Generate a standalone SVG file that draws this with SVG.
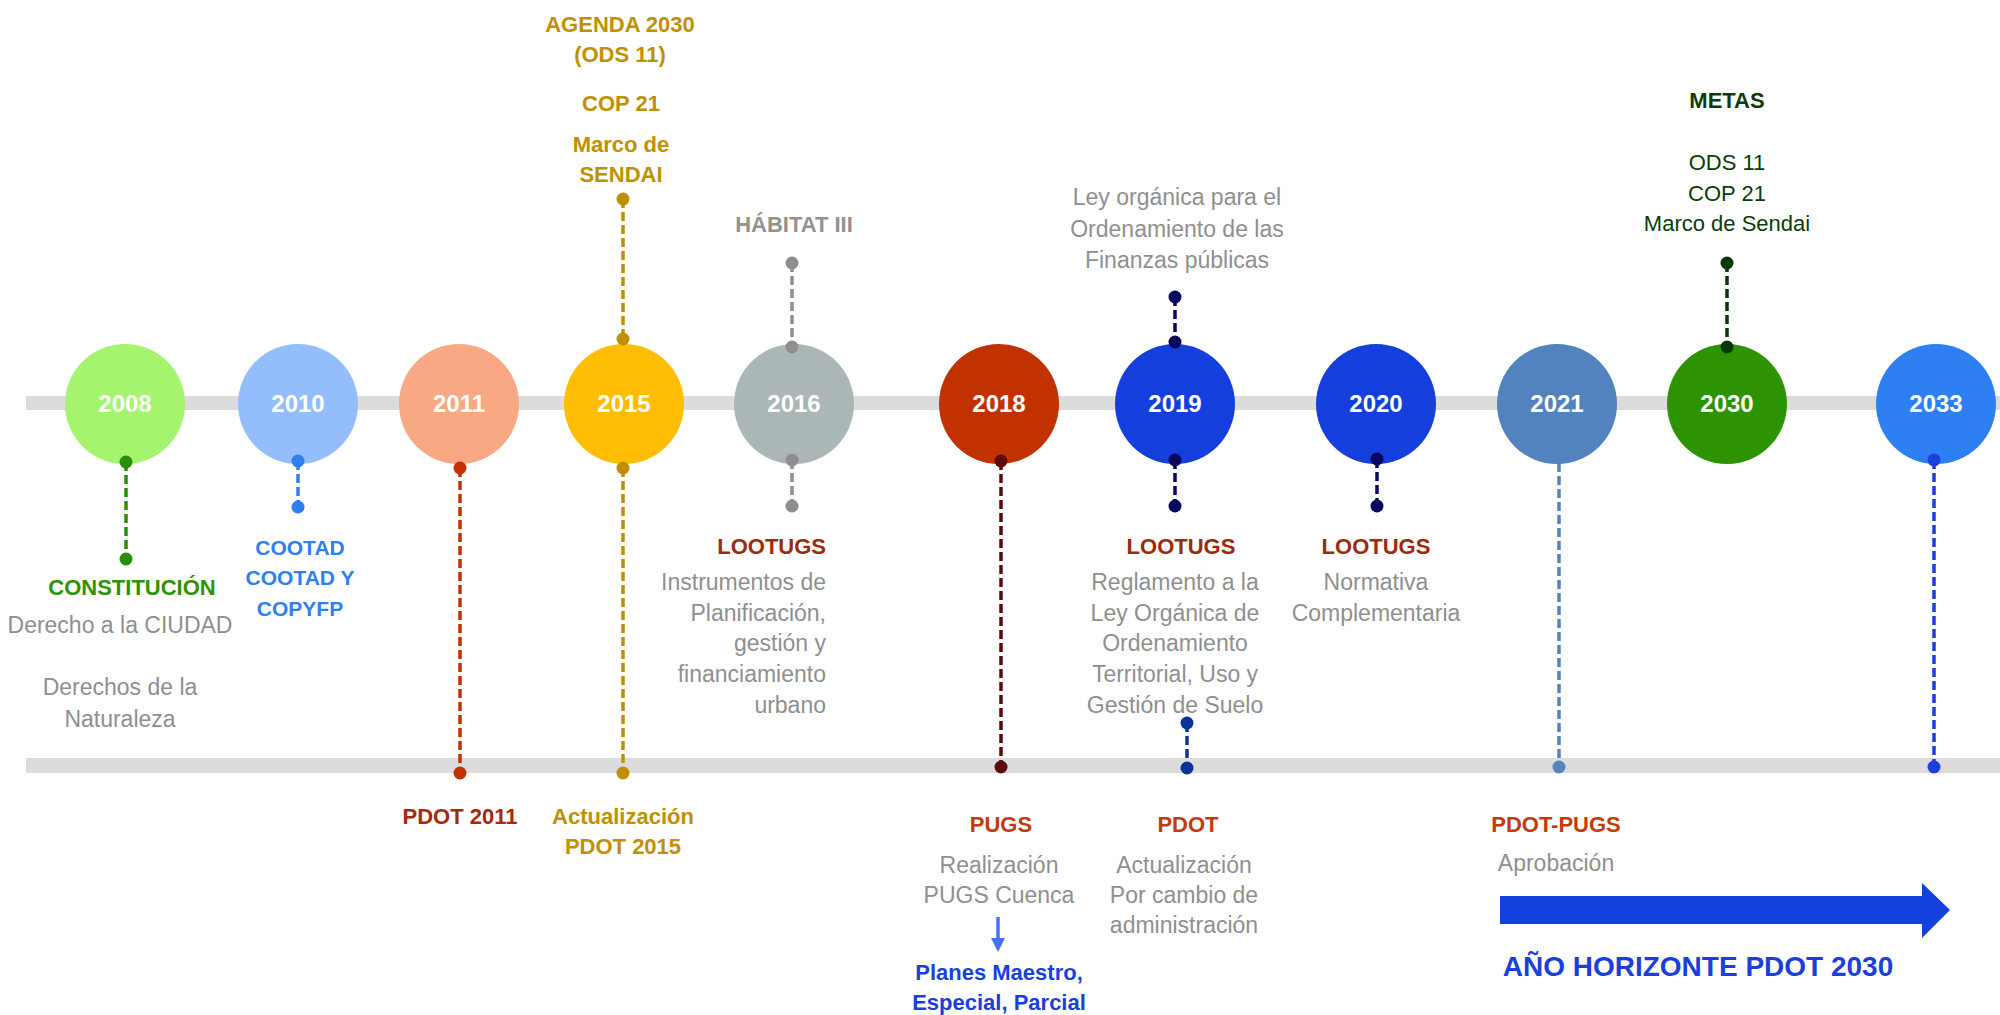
<svg xmlns="http://www.w3.org/2000/svg" width="2000" height="1015" viewBox="0 0 2000 1015">
<defs>
<style>
text{font-family:"Liberation Sans",Arial,sans-serif;text-anchor:middle}
.yr{font-size:24px;font-weight:bold;fill:#fff}
.g{font-size:23px;fill:#8f8f8f}
.b{font-size:22px;font-weight:bold}
.bar{fill:#dcdcdc}
.c line{stroke-width:3.5;stroke-dasharray:9 4}
.end{text-anchor:end}
</style>
<marker id="ah" markerWidth="4" markerHeight="4" refX="2" refY="2" orient="auto" markerUnits="strokeWidth">
<path d="M0,0 L4,2 L0,4 z" fill="#4472F4"/>
</marker>
</defs>
<rect width="2000" height="1015" fill="#fff"/>
<rect class="bar" x="26" y="396" width="1974" height="14"/>
<rect class="bar" x="26" y="758" width="1974" height="15"/>

<g id="n2008"><circle cx="125" cy="404" r="60" fill="#A4F46E"/><text class="yr" x="125" y="412">2008</text></g>
<g id="n2010"><circle cx="298" cy="404" r="60" fill="#93BDFB"/><text class="yr" x="298" y="412">2010</text></g>
<g id="n2011"><circle cx="459" cy="404" r="60" fill="#F8A882"/><text class="yr" x="459" y="412">2011</text></g>
<g id="n2015"><circle cx="624" cy="404" r="60" fill="#FFBE03"/><text class="yr" x="624" y="412">2015</text></g>
<g id="n2016"><circle cx="794" cy="404" r="60" fill="#ABB6B7"/><text class="yr" x="794" y="412">2016</text></g>
<g id="n2018"><circle cx="999" cy="404" r="60" fill="#C23200"/><text class="yr" x="999" y="412">2018</text></g>
<g id="n2019"><circle cx="1175" cy="404" r="60" fill="#153FDD"/><text class="yr" x="1175" y="412">2019</text></g>
<g id="n2020"><circle cx="1376" cy="404" r="60" fill="#153FDD"/><text class="yr" x="1376" y="412">2020</text></g>
<g id="n2021"><circle cx="1557" cy="404" r="60" fill="#5383BE"/><text class="yr" x="1557" y="412">2021</text></g>
<g id="n2030"><circle cx="1727" cy="404" r="60" fill="#2D9302"/><text class="yr" x="1727" y="412">2030</text></g>
<g id="n2033"><circle cx="1936" cy="404" r="60" fill="#2E80F2"/><text class="yr" x="1936" y="412">2033</text></g>

<g id="connectors" class="c">
<g fill="#2B8E0A" stroke="#2B8E0A"><line x1="126" y1="462" x2="126" y2="559"/><circle cx="126" cy="462" r="6.5" stroke="none"/><circle cx="126" cy="559" r="6.5" stroke="none"/></g>
<g fill="#2E7FF0" stroke="#2E7FF0"><line x1="298" y1="461" x2="298" y2="507"/><circle cx="298" cy="461" r="6.5" stroke="none"/><circle cx="298" cy="507" r="6.5" stroke="none"/></g>
<g fill="#C33001" stroke="#C33001"><line x1="460" y1="468" x2="460" y2="773"/><circle cx="460" cy="468" r="6.5" stroke="none"/><circle cx="460" cy="773" r="6.5" stroke="none"/></g>
<g fill="#BF8F00" stroke="#BF8F00"><line x1="623" y1="199" x2="623" y2="339"/><circle cx="623" cy="199" r="6.5" stroke="none"/><circle cx="623" cy="339" r="6.5" stroke="none"/></g>
<g fill="#BF8F00" stroke="#BF8F00"><line x1="623" y1="468" x2="623" y2="773"/><circle cx="623" cy="468" r="6.5" stroke="none"/><circle cx="623" cy="773" r="6.5" stroke="none"/></g>
<g fill="#8E8E8E" stroke="#8E8E8E"><line x1="792" y1="263" x2="792" y2="347"/><circle cx="792" cy="263" r="6.5" stroke="none"/><circle cx="792" cy="347" r="6.5" stroke="none"/></g>
<g fill="#8E8E8E" stroke="#8E8E8E"><line x1="792" y1="460" x2="792" y2="506"/><circle cx="792" cy="460" r="6.5" stroke="none"/><circle cx="792" cy="506" r="6.5" stroke="none"/></g>
<g fill="#5C0A0A" stroke="#5C0A0A"><line x1="1001" y1="461" x2="1001" y2="767"/><circle cx="1001" cy="461" r="6.5" stroke="none"/><circle cx="1001" cy="767" r="6.5" stroke="none"/></g>
<g fill="#07075E" stroke="#07075E"><line x1="1175" y1="297" x2="1175" y2="342"/><circle cx="1175" cy="297" r="6.5" stroke="none"/><circle cx="1175" cy="342" r="6.5" stroke="none"/></g>
<g fill="#07075E" stroke="#07075E"><line x1="1175" y1="460" x2="1175" y2="506"/><circle cx="1175" cy="460" r="6.5" stroke="none"/><circle cx="1175" cy="506" r="6.5" stroke="none"/></g>
<g fill="#0B3399" stroke="#0B3399"><line x1="1187" y1="723" x2="1187" y2="768"/><circle cx="1187" cy="723" r="6.5" stroke="none"/><circle cx="1187" cy="768" r="6.5" stroke="none"/></g>
<g fill="#07075E" stroke="#07075E"><line x1="1377" y1="459" x2="1377" y2="506"/><circle cx="1377" cy="459" r="6.5" stroke="none"/><circle cx="1377" cy="506" r="6.5" stroke="none"/></g>
<g fill="#5384BE" stroke="#5384BE"><line x1="1559" y1="463" x2="1559" y2="767"/><circle cx="1559" cy="767" r="6.5" stroke="none"/></g>
<g fill="#053805" stroke="#053805"><line x1="1727" y1="263" x2="1727" y2="347"/><circle cx="1727" cy="263" r="6.5" stroke="none"/><circle cx="1727" cy="347" r="6.5" stroke="none"/></g>
<g fill="#1A3FDD" stroke="#1A3FDD"><line x1="1934" y1="460" x2="1934" y2="767"/><circle cx="1934" cy="460" r="6.5" stroke="none"/><circle cx="1934" cy="767" r="6.5" stroke="none"/></g>
<line x1="998" y1="917" x2="998" y2="945" stroke="#4472F4" stroke-width="2.5" marker-end="url(#ah)" style="stroke-dasharray:none"/>
</g>

<g id="ev-agenda" class="b" fill="#BF9000">
<text x="620" y="32">AGENDA 2030</text><text x="620" y="62">(ODS 11)</text><text x="621" y="111">COP 21</text><text x="621" y="152">Marco de</text><text x="621" y="182">SENDAI</text>
</g>
<g id="ev-habitat"><text class="b" x="794" y="232" fill="#929292">HÁBITAT III</text></g>
<g id="ev-ley" class="g"><text x="1177" y="205">Ley orgánica para el</text><text x="1177" y="237">Ordenamiento de las</text><text x="1177" y="268">Finanzas públicas</text></g>
<g id="ev-metas" fill="#0A3D0A">
<text class="b" x="1727" y="108">METAS</text>
<text x="1727" y="170" font-size="22">ODS 11</text><text x="1727" y="201" font-size="22">COP 21</text><text x="1727" y="231" font-size="22">Marco de Sendai</text>
</g>
<g id="ev-constitucion">
<text class="b" x="132" y="595" fill="#2E9300" font-size="21">CONSTITUCIÓN</text>
<text class="g" x="120" y="633" font-size="22.5">Derecho a la CIUDAD</text>
<text class="g" x="120" y="695">Derechos de la</text><text class="g" x="120" y="727">Naturaleza</text>
</g>
<g id="ev-cootad" class="b" fill="#2E7FF0" font-size="21"><text x="300" y="555" font-size="21">COOTAD</text><text x="300" y="585" font-size="21">COOTAD Y</text><text x="300" y="616" font-size="21">COPYFP</text></g>
<g id="ev-lootugs2016">
<text class="b end" x="826" y="554" fill="#9E2A0A" font-size="21">LOOTUGS</text>
<g class="g"><text class="end" x="826" y="590">Instrumentos de</text><text class="end" x="826" y="621">Planificación,</text><text class="end" x="826" y="651">gestión y</text><text class="end" x="826" y="682">financiamiento</text><text class="end" x="826" y="713">urbano</text></g>
</g>
<g id="ev-lootugs2019">
<text class="b" x="1181" y="554" fill="#9E2A0A" font-size="21">LOOTUGS</text>
<g class="g"><text x="1175" y="590">Reglamento a la</text><text x="1175" y="621">Ley Orgánica de</text><text x="1175" y="651">Ordenamiento</text><text x="1175" y="682">Territorial, Uso y</text><text x="1175" y="713">Gestión de Suelo</text></g>
</g>
<g id="ev-lootugs2020">
<text class="b" x="1376" y="554" fill="#9E2A0A" font-size="21">LOOTUGS</text>
<g class="g"><text x="1376" y="590">Normativa</text><text x="1376" y="621">Complementaria</text></g>
</g>
<g id="ev-pdot2011"><text class="b" x="460" y="824" fill="#A52A0A">PDOT 2011</text></g>
<g id="ev-pdot2015" class="b" fill="#BF9000"><text x="623" y="824">Actualización</text><text x="623" y="854">PDOT 2015</text></g>
<g id="ev-pugs">
<text class="b" x="1001" y="832" fill="#C53A0A">PUGS</text>
<g class="g"><text x="999" y="873">Realización</text><text x="999" y="903">PUGS Cuenca</text></g>
</g>
<g id="ev-planes" class="b" fill="#1A3FDD"><text x="999" y="980">Planes Maestro,</text><text x="999" y="1010">Especial, Parcial</text></g>
<g id="ev-pdot2019">
<text class="b" x="1188" y="832" fill="#C53A0A">PDOT</text>
<g class="g"><text x="1184" y="873">Actualización</text><text x="1184" y="903">Por cambio de</text><text x="1184" y="933">administración</text></g>
</g>
<g id="ev-pdotpugs">
<text class="b" x="1556" y="832" fill="#C53A0A" font-size="21">PDOT-PUGS</text>
<text class="g" x="1556" y="871">Aprobación</text>
</g>
<g id="horizonte">
<polygon points="1500,896 1922,896 1922,883 1950,910 1922,938 1922,924 1500,924" fill="#1440DD"/>
<text x="1698" y="976" font-size="28" font-weight="bold" fill="#1A3FDD">AÑO HORIZONTE PDOT 2030</text>
</g>
</svg>
